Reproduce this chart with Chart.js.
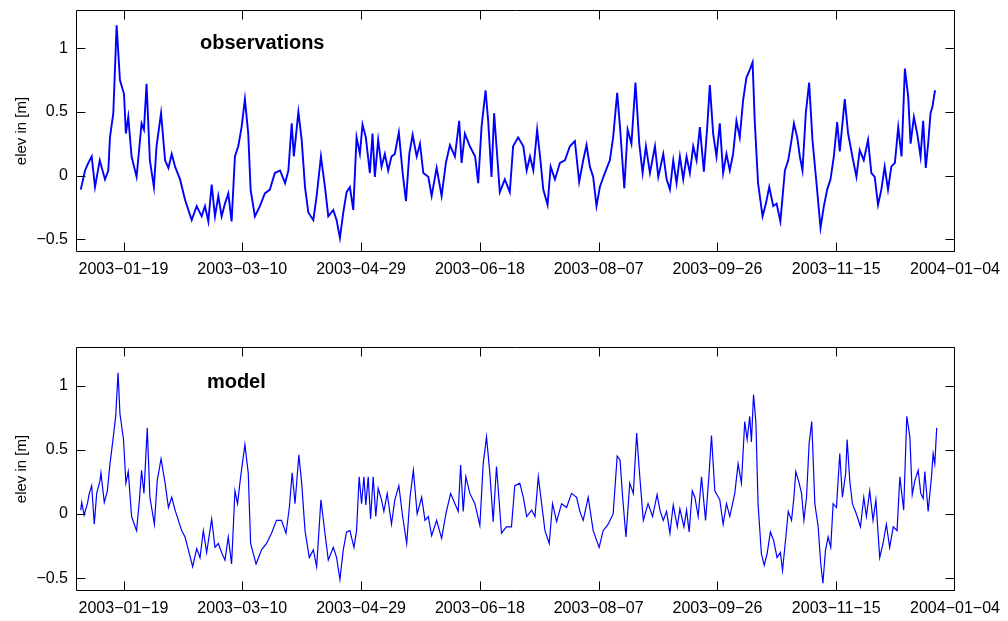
<!DOCTYPE html>
<html>
<head>
<meta charset="utf-8">
<script src="https://cdn.jsdelivr.net/npm/chart.js@4"></script>
<style>
  body { margin: 0; background: #fff; }
  .panel { position: absolute; left: 0; width: 1008px; }
  #top-panel { top: 0; height: 310px; }
  #bottom-panel { top: 300px; height: 321px; }
</style>
</head>
<body>
<div class="panel" id="top-panel"><canvas id="obs-chart"></canvas></div>
<div class="panel" id="bottom-panel"><canvas id="model-chart"></canvas></div>
<script>
// days counted from 2003-01-01
const tickDays = [18, 68, 118, 168, 218, 268, 318, 368];
const tickLabels = ['2003\u221201\u221219', '2003\u221203\u221210', '2003\u221204\u221229', '2003\u221206\u221218',
                    '2003\u221208\u221207', '2003\u221209\u221226', '2003\u221211\u221215', '2004\u221201\u221204'];
const elevTicks = [-0.5, 0, 0.5, 1];
const elevTickLabels = ['\u22120.5', '0', '0.5', '1'];

const obsDay = [0, 1.8, 3.2, 4.6, 6, 8, 10.2, 11.6, 12.3, 13.7, 15.1, 16.5, 18.2, 19, 20, 21.4, 23.5, 25.6, 26.6, 27.7,
  29.1, 30.8, 31.9, 33.8, 35.5, 36.9, 38.3, 39.7, 41.8, 43.9, 46.7, 48.8, 50.9, 52.3, 53.7, 55.1, 56.5, 57.9, 59.3, 60.7,
  62.1, 63.5, 64.9, 66.3, 67.7, 69.1, 70.5, 71.5, 73.3, 75.4, 77.5, 79.6, 81.7, 83.9, 86, 87.4, 88.8, 89.7, 91.6, 93,
  94.4, 95.8, 97.9, 99.3, 101.1, 102.8, 104.2, 106.3, 107.7, 109.1, 110.5, 111.9, 113.3, 114.7, 116.1, 117.5, 118.6, 120, 121.7, 122.8,
  123.8, 125.2, 126.6, 128, 129.4, 130.8, 132.2, 133.9, 135.5, 136.9, 138.3, 139.7, 141.4, 142.8, 144.2, 146.3, 147.7, 149.8, 151.9, 153.7,
  155.4, 157.5, 159.3, 160.3, 161.7, 163.8, 166, 167.3, 168.7, 170.4, 171.5, 172.9, 174, 175, 176.4, 178.5, 180.6, 182, 184.1, 186.3,
  187.7, 189.1, 190.5, 192.1, 193.5, 194.7, 196.5, 197.8, 199.6, 201.7, 203.8, 205.9, 208, 209.8, 211.5, 212.9, 214.3, 215.7, 217.1, 218.5,
  220.6, 222.7, 224.1, 225.8, 227, 228.8, 230.2, 231.8, 233.5, 235.1, 236.5, 237.9, 239.6, 241.7, 243.1, 245.2, 246.6, 248, 249.4, 250.8,
  252.2, 253.6, 255, 256.4, 257.8, 259.2, 260.6, 262.3, 263.7, 264.8, 266.2, 267.6, 269, 270.4, 271.8, 273.2, 274.6, 276, 277.4, 278.8,
  280.2, 281.6, 282.8, 283.7, 285.1, 287, 288.4, 289.8, 291.5, 292.9, 294.5, 296.4, 297.8, 299.2, 300.2, 301.6, 302.7, 303.8, 305.2, 306.6,
  308, 309.7, 311.4, 312.8, 314.2, 315.6, 317, 318.4, 319.5, 321.6, 323, 324.8, 326.5, 327.9, 329.6, 331.4, 332.8, 334.2, 335.6, 337,
  338.4, 339.8, 341.2, 342.7, 344.1, 345.5, 346.9, 348.3, 349.3, 350.7, 352.1, 353.5, 354.6, 355.7, 356.7, 357.7, 358.5, 359.6];
const obsElev = [-0.11, 0.04, 0.10, 0.15, -0.09, 0.12, -0.03, 0.04, 0.30, 0.49, 1.18, 0.75, 0.64, 0.33, 0.46, 0.15, -0.01, 0.41, 0.36, 0.72,
  0.12, -0.09, 0.23, 0.49, 0.12, 0.06, 0.17, 0.07, -0.03, -0.19, -0.35, -0.24, -0.32, -0.24, -0.36, -0.07, -0.32, -0.16, -0.32, -0.22,
  -0.14, -0.36, 0.15, 0.23, 0.38, 0.60, 0.33, -0.11, -0.32, -0.24, -0.14, -0.11, 0.02, 0.04, -0.06, 0.04, 0.41, 0.15, 0.50, 0.28,
  -0.09, -0.29, -0.35, -0.16, 0.15, -0.09, -0.32, -0.27, -0.35, -0.49, -0.29, -0.13, -0.09, -0.27, 0.30, 0.17, 0.40, 0.30, 0.02, 0.33,
  -0.01, 0.28, 0.07, 0.17, 0.04, 0.15, 0.17, 0.34, 0.02, -0.20, 0.17, 0.32, 0.15, 0.25, 0.02, -0.01, -0.16, 0.06, -0.16, 0.10,
  0.24, 0.15, 0.43, 0.10, 0.33, 0.23, 0.15, -0.06, 0.38, 0.67, 0.43, -0.01, 0.49, 0.23, -0.13, -0.03, -0.13, 0.23, 0.30, 0.23,
  0.04, 0.15, 0.04, 0.36, 0.12, -0.11, -0.23, 0.07, -0.03, 0.10, 0.12, 0.23, 0.27, -0.05, 0.12, 0.24, 0.07, -0.01, -0.24, -0.09,
  0.02, 0.12, 0.30, 0.65, 0.38, -0.10, 0.36, 0.25, 0.73, 0.25, 0.02, 0.23, 0.02, 0.23, -0.01, 0.17, -0.03, -0.11, 0.12, -0.06,
  0.15, -0.03, 0.15, 0.02, 0.23, 0.12, 0.38, 0.03, 0.38, 0.71, 0.33, 0.15, 0.41, 0.02, 0.17, 0.04, 0.17, 0.43, 0.30, 0.59,
  0.77, 0.83, 0.89, 0.43, -0.06, -0.32, -0.22, -0.09, -0.24, -0.22, -0.36, 0.04, 0.12, 0.28, 0.41, 0.30, 0.15, 0.04, 0.49, 0.73,
  0.28, -0.06, -0.41, -0.24, -0.11, -0.03, 0.15, 0.42, 0.19, 0.60, 0.33, 0.15, -0.01, 0.20, 0.12, 0.28, 0.02, -0.01, -0.23, -0.11,
  0.07, -0.11, 0.07, 0.10, 0.38, 0.15, 0.84, 0.62, 0.25, 0.46, 0.33, 0.15, 0.43, 0.06, 0.25, 0.49, 0.54, 0.67];

const modDay = [0, 0.4, 1.4, 2.8, 3.6, 4.6, 5.7, 6.7, 8.1, 8.5, 9.9, 11.2, 12.3, 13.7, 14.7, 15.7, 16.5, 18, 19, 20,
  21.4, 23.5, 24.7, 25.6, 26.6, 28, 29.1, 31, 32.2, 33.8, 35.5, 36.9, 38.3, 39.7, 41.1, 42.5, 43.9, 45.3, 47.1, 48.8,
  50.2, 51.6, 53, 55.1, 56.5, 57.9, 59.3, 60.7, 62.1, 63.5, 64.9, 66, 67.3, 69.1, 70.5, 71.5, 73.8, 76.1, 78.2, 80.3,
  82.4, 84.5, 86.4, 87.8, 89, 90.2, 91.8, 93, 94.4, 96.2, 97.9, 99.3, 101.1, 102.8, 104.2, 106.3, 107.7, 109.1, 110.5, 111.9,
  113.3, 115, 116.1, 117.2, 118.2, 119.2, 120, 121, 122, 123.1, 124.2, 125.2, 126.6, 127.6, 129, 130.8, 132.2, 133.9, 135.5, 137.2,
  138.6, 140, 141.6, 143.5, 144.9, 146.3, 147.7, 149.8, 151.9, 153.7, 155.7, 157.5, 158.9, 159.9, 161, 162.1, 163.8, 165.9, 168, 169.4,
  170.8, 172.2, 173.6, 175, 176.2, 177.1, 179.2, 181.3, 182.7, 184.8, 186.3, 187.7, 189.8, 191.2, 192.6, 194, 195.4, 197.2, 198.6, 200.3,
  202.4, 204.5, 206.6, 208.7, 210.1, 211.5, 213.6, 215.7, 218.2, 219.9, 222, 224.1, 225.8, 227, 228.1, 229.5, 231.1, 232.6, 234, 235.1,
  236.8, 238.8, 240.7, 242.6, 243.8, 245.2, 246.6, 248, 249.4, 251.1, 252.2, 253.9, 255, 256.1, 257.4, 258.5, 259.9, 261.3, 263, 264.4,
  265.5, 266.9, 269, 270.4, 271.8, 273.2, 275.3, 276.7, 278.1, 279.5, 280.5, 281.6, 282.3, 283.2, 284.2, 285.1, 286.5, 287.7, 288.9, 290.3,
  291.7, 293.1, 294.5, 295.4, 296.8, 297.8, 299.2, 300.2, 301, 302.4, 303.4, 304.4, 305.5, 306.6, 307.7, 309, 310.4, 311.5, 312.4, 313.5,
  314.6, 315.7, 316.7, 318.1, 319.5, 320.6, 322, 322.6, 323.7, 324.8, 326.5, 328.2, 329.6, 330.7, 332.1, 333.5, 334.7, 336.3, 337.7, 339.1,
  340.5, 342, 343.6, 344.8, 346.4, 347.7, 349, 350, 351.1, 352.5, 353.6, 354.6, 355.3, 356.7, 358.1, 358.8, 359.5, 360.3];
const modElev = [0.03, 0.09, -0.01, 0.08, 0.16, 0.22, -0.08, 0.16, 0.26, 0.32, 0.09, 0.18, 0.39, 0.60, 0.76, 1.10, 0.78, 0.58, 0.24, 0.33,
  -0.02, -0.13, 0.11, 0.34, 0.16, 0.67, 0.13, -0.08, 0.26, 0.43, 0.24, 0.05, 0.13, 0.03, -0.05, -0.13, -0.18, -0.28, -0.41, -0.27,
  -0.34, -0.13, -0.30, -0.04, -0.26, -0.23, -0.30, -0.36, -0.18, -0.39, 0.18, 0.08, 0.29, 0.54, 0.32, -0.23, -0.39, -0.28, -0.23, -0.15,
  -0.05, -0.05, -0.15, 0.05, 0.32, 0.08, 0.46, 0.24, -0.13, -0.34, -0.28, -0.41, 0.11, -0.15, -0.36, -0.26, -0.34, -0.51, -0.28, -0.14,
  -0.13, -0.26, -0.13, 0.29, 0.08, 0.29, 0.07, 0.29, -0.04, 0.29, -0.02, 0.20, 0.11, 0.02, 0.16, -0.08, 0.11, 0.22, -0.02, -0.23,
  0.13, 0.34, 0.00, 0.13, -0.05, -0.02, -0.17, -0.05, -0.19, 0.00, 0.16, 0.08, 0.02, 0.38, 0.02, 0.29, 0.16, 0.08, -0.09, 0.39,
  0.60, 0.32, -0.06, 0.37, 0.08, -0.15, -0.10, -0.10, 0.22, 0.24, 0.13, -0.02, 0.03, -0.02, 0.29, 0.08, -0.13, -0.23, 0.08, -0.06,
  0.08, 0.05, 0.16, 0.13, 0.02, -0.05, 0.13, -0.13, -0.26, -0.13, -0.08, 0.00, 0.45, 0.42, 0.13, -0.18, 0.24, 0.16, 0.63, 0.34,
  -0.05, 0.08, -0.02, 0.15, 0.03, -0.05, 0.02, -0.15, 0.07, -0.10, 0.04, -0.10, 0.03, -0.14, 0.18, 0.13, -0.02, 0.29, -0.05, 0.29,
  0.61, 0.18, 0.11, -0.08, 0.08, -0.02, 0.16, 0.39, 0.24, 0.72, 0.58, 0.76, 0.56, 0.93, 0.71, 0.08, -0.31, -0.40, -0.31, -0.14,
  -0.21, -0.34, -0.30, -0.44, -0.18, 0.02, -0.05, 0.13, 0.33, 0.24, 0.16, -0.05, 0.13, 0.55, 0.72, 0.08, -0.10, -0.39, -0.54, -0.28,
  -0.18, -0.26, 0.08, 0.05, 0.47, 0.13, 0.32, 0.58, 0.26, 0.08, 0.00, -0.10, 0.13, -0.02, 0.18, -0.05, 0.11, -0.34, -0.23, -0.08,
  -0.26, -0.10, -0.13, 0.29, 0.03, 0.76, 0.60, 0.15, 0.26, 0.34, 0.16, 0.12, 0.33, 0.02, 0.29, 0.47, 0.39, 0.67];

const FONT = '"Liberation Sans", Arial, Helvetica, sans-serif';

// box round the axes with inward ticks, plus the label inside the axes
const matlabFrame = {
  id: 'matlabFrame',
  afterDraw(chart, args, opts) {
    const { ctx, chartArea: a, scales: { x, y } } = chart;
    const L = Math.round(a.left) + 0.5, R = Math.round(a.right) - 0.5;
    const T = Math.round(a.top) + 0.5, B = Math.round(a.bottom) - 0.5;
    const len = 9;
    ctx.save();
    ctx.strokeStyle = '#000';
    ctx.lineWidth = 1;
    ctx.beginPath();
    ctx.rect(L, T, R - L, B - T);
    tickDays.forEach(d => {
      const px = Math.min(Math.round(x.getPixelForValue(d)) + 0.5, R);
      ctx.moveTo(px, B); ctx.lineTo(px, B - len);
      ctx.moveTo(px, T); ctx.lineTo(px, T + len);
    });
    elevTicks.forEach(v => {
      const py = Math.round(y.getPixelForValue(v)) + 0.5;
      ctx.moveTo(L, py); ctx.lineTo(L + len, py);
      ctx.moveTo(R, py); ctx.lineTo(R - len, py);
    });
    ctx.stroke();
    ctx.fillStyle = '#000';
    ctx.font = 'bold 20px ' + FONT;
    ctx.textBaseline = 'middle';
    ctx.textAlign = 'left';
    ctx.fillText(opts.text, x.getPixelForValue(opts.day), y.getPixelForValue(opts.elev));
    ctx.restore();
  }
};

function makePanel(canvasId, days, elev, label, labelDay, labelElev, padTop, xAxisHeight, lineWidth) {
  const ctx = document.getElementById(canvasId).getContext('2d');
  return new Chart(ctx, {
    type: 'line',
    data: {
      datasets: [{
        data: days.map((d, i) => ({ x: d, y: elev[i] })),
        borderColor: '#0000ff',
        borderWidth: lineWidth,
        pointRadius: 0,
        tension: 0,
        fill: false
      }]
    },
    options: {
      responsive: true,
      maintainAspectRatio: false,
      animation: false,
      events: [],
      layout: { padding: { left: 0, top: padTop, right: 53, bottom: 0 } },
      plugins: {
        legend: { display: false },
        tooltip: { enabled: false },
        matlabFrame: { text: label, day: labelDay, elev: labelElev }
      },
      scales: {
        x: {
          type: 'linear',
          min: -2,
          max: 368,
          grid: { display: false, drawTicks: false },
          border: { display: false },
          afterBuildTicks: s => { s.ticks = tickDays.map(v => ({ value: v })); },
          afterFit: s => { s.height = xAxisHeight; s.paddingLeft = 0; s.paddingRight = 0; },
          ticks: {
            autoSkip: false,
            maxRotation: 0,
            padding: 8,
            color: '#000',
            font: { family: FONT, size: 16 },
            callback: (v, i) => tickLabels[i]
          }
        },
        y: {
          min: -0.6,
          max: 1.3,
          grid: { display: false, drawTicks: false },
          border: { display: false },
          afterBuildTicks: s => { s.ticks = elevTicks.map(v => ({ value: v })); },
          afterFit: s => { s.width = 76; s.paddingTop = 0; s.paddingBottom = 0; },
          ticks: {
            padding: 8,
            color: '#000',
            font: { family: FONT, size: 16 },
            callback: (v, i) => elevTickLabels[i]
          },
          title: {
            display: true,
            text: 'elev in [m]',
            color: '#000',
            font: { family: FONT, size: 15 },
            padding: { top: 13, bottom: 0 }
          }
        }
      }
    },
    plugins: [matlabFrame]
  });
}

makePanel('obs-chart', obsDay, obsElev, 'observations', 50.2, 1.04, 10, 58, 1.9);
makePanel('model-chart', modDay, modElev, 'model', 53.1, 1.02, 47, 30, 1.2);
</script>
</body>
</html>
